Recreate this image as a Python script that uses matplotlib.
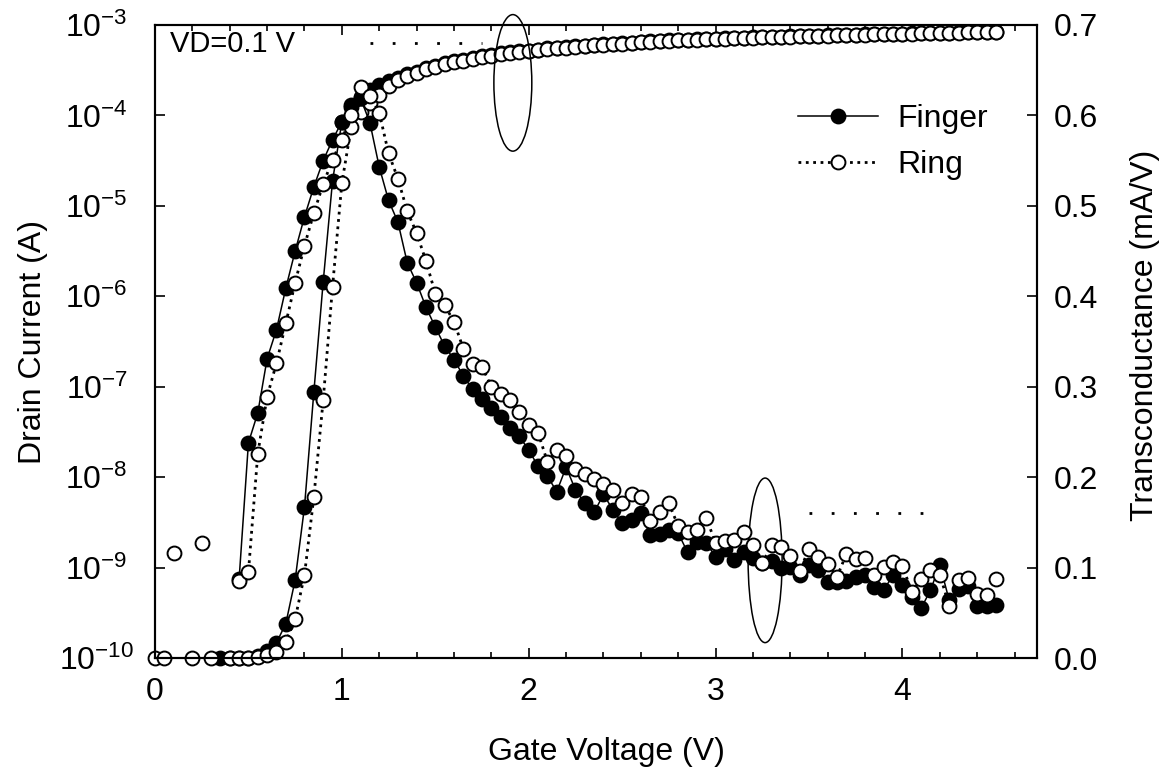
import numpy as np
import matplotlib
matplotlib.use("Agg")
import matplotlib.pyplot as plt
from matplotlib.patches import Ellipse
from matplotlib.ticker import MultipleLocator, NullLocator, FormatStrFormatter

plt.rcParams['font.family'] = ['Liberation Sans', 'DejaVu Sans']
plt.rcParams['axes.unicode_minus'] = False

nan = np.nan

# gate voltage sweep, 0 .. 4.5 V in 0.05 V steps
gate_v = np.round(np.arange(91) * 0.05, 2)

# drain current (A), left log axis
finger_id = [nan, nan, nan, nan, nan, nan, nan,
             1.0e-10, 1.0e-10, 1.0e-10, 1.0e-10, 1.05e-10, 1.2e-10, 1.47e-10,
             2.4e-10, 7.3e-10, 4.7e-9, 8.7e-8, 1.44e-6, 1.88e-5, 8.5e-5,
             1.3e-4, 1.6e-4, 1.9e-4, 2.15e-4, 2.4e-4, 2.6e-4, 2.85e-4, 3.05e-4,
             3.35e-4, 3.55e-4, 3.8e-4, 4.0e-4, 4.1e-4, 4.3e-4, 4.5e-4, 4.65e-4,
             4.85e-4, 5.0e-4, 5.1e-4, 5.2e-4, 5.35e-4, 5.5e-4, 5.62e-4, 5.7e-4,
             5.8e-4, 5.92e-4, 6.05e-4, 6.12e-4, 6.22e-4, 6.3e-4, 6.4e-4, 6.52e-4,
             6.58e-4, 6.7e-4, 6.76e-4, 6.82e-4, 6.87e-4, 6.93e-4, 6.99e-4, 7.05e-4,
             7.1e-4, 7.16e-4, 7.22e-4, 7.28e-4, 7.33e-4, 7.38e-4, 7.43e-4, 7.49e-4,
             7.54e-4, 7.59e-4, 7.64e-4, 7.69e-4, 7.74e-4, 7.79e-4, 7.83e-4, 7.88e-4,
             7.92e-4, 7.96e-4, 8.0e-4, 8.04e-4, 8.08e-4, 8.12e-4, 8.16e-4, 8.2e-4,
             8.24e-4, 8.27e-4, 8.31e-4, 8.34e-4, 8.38e-4, 8.41e-4]
ring_id = [1.0e-10, 1.0e-10, nan, nan, 1.0e-10, nan, 1.0e-10, nan,
           1.0e-10, 1.0e-10, 1.0e-10, 1.03e-10, 1.08e-10, 1.16e-10, 1.5e-10,
           2.7e-10, 8.3e-10, 6.0e-9, 7.1e-8, 1.27e-6, 1.79e-5, 7.4e-5, 1.1e-4,
           1.37e-4, 1.68e-4, 2.1e-4, 2.47e-4, 2.73e-4, 2.95e-4, 3.26e-4, 3.43e-4,
           3.7e-4, 3.9e-4, 4.0e-4, 4.21e-4, 4.43e-4, 4.54e-4, 4.78e-4, 4.9e-4,
           5.03e-4, 5.1e-4, 5.29e-4, 5.43e-4, 5.57e-4, 5.6e-4, 5.71e-4, 5.86e-4,
           6.0e-4, 6.05e-4, 6.16e-4, 6.2e-4, 6.32e-4, 6.49e-4, 6.5e-4, 6.66e-4,
           6.7e-4, 6.75e-4, 6.8e-4, 6.86e-4, 6.92e-4, 6.98e-4, 7.05e-4, 7.1e-4,
           7.16e-4, 7.22e-4, 7.28e-4, 7.33e-4, 7.38e-4, 7.44e-4, 7.5e-4, 7.55e-4,
           7.6e-4, 7.65e-4, 7.7e-4, 7.75e-4, 7.8e-4, 7.84e-4, 7.88e-4, 7.93e-4,
           7.97e-4, 8.01e-4, 8.05e-4, 8.09e-4, 8.13e-4, 8.17e-4, 8.21e-4, 8.24e-4,
           8.28e-4, 8.31e-4, 8.35e-4, 8.38e-4]

# transconductance (mA/V), right axis
finger_gm = [nan, nan, nan, nan, nan, nan, nan, nan, nan,
             0.087, 0.238, 0.271, 0.331, 0.363, 0.409, 0.450, 0.488, 0.521,
             0.550, 0.573, 0.593, 0.609, 0.619, 0.592, 0.543, 0.506, 0.482,
             0.437, 0.415, 0.388, 0.366, 0.345, 0.330, 0.312, 0.297, 0.286,
             0.276, 0.266, 0.254, 0.245, 0.230, 0.212, 0.201, 0.184, 0.211,
             0.186, 0.171, 0.161, 0.181, 0.164, 0.149, 0.153, 0.160, 0.136,
             0.137, 0.142, 0.138, 0.117, 0.128, 0.127, 0.112, 0.121, 0.108,
             0.117, 0.111, 0.105, 0.107, 0.100, 0.101, 0.092, 0.103, 0.097,
             0.084, 0.084, 0.085, 0.090, 0.092, 0.079, 0.075, 0.092, 0.081,
             0.067, 0.055, 0.075, 0.103, 0.064, 0.076, 0.080, 0.058, 0.058, 0.059]
ring_gm = [nan, nan, 0.116, nan, nan, 0.127, nan, nan, nan,
           0.085, 0.095, 0.226, 0.289, 0.326, 0.370, 0.415, 0.456, 0.492,
           0.524, 0.551, 0.573, 0.600, 0.631, 0.622, 0.603, 0.558, 0.530,
           0.494, 0.470, 0.439, 0.403, 0.390, 0.372, 0.342, 0.325, 0.322,
           0.300, 0.292, 0.285, 0.272, 0.258, 0.249, 0.217, 0.230, 0.223,
           0.209, 0.203, 0.198, 0.192, 0.186, 0.171, 0.181, 0.178, 0.151,
           0.161, 0.171, 0.146, 0.139, 0.142, 0.155, 0.127, 0.129, 0.130,
           0.139, 0.125, 0.105, 0.125, 0.123, 0.113, 0.096, 0.121, 0.112,
           0.104, 0.090, 0.115, 0.109, 0.111, 0.092, 0.101, 0.106, 0.102,
           0.073, 0.087, 0.097, 0.092, 0.058, 0.086, 0.088, 0.071, 0.070, 0.087]

# stray dotted traces left in the figure
stray_id_v = [1.15, 1.75]
stray_id = [6.3e-4, 6.3e-4]
stray_gm_v = [3.5, 4.2]
stray_gm = [0.16, 0.16]

fs = 23
fig = plt.figure(figsize=(11.74, 7.8), dpi=100)
ax = fig.add_axes([155/1174, 122/780, 882/1174, 633/780])
ax2 = ax.twinx()

mk = dict(marker='o', ms=10, mew=1.4, mec='black', clip_on=False)
ax.plot(gate_v, finger_id, '-', color='black', lw=1.1, mfc='black', **mk)
ax.plot(gate_v, ring_id, ':', color='black', lw=2, mfc='white', **mk)
ax.plot(stray_id_v, stray_id, color='black', lw=2, ls=(0, (1, 7)))

l1, = ax2.plot(gate_v, finger_gm, '-', color='black', lw=1.1, mfc='black', **mk)
l2, = ax2.plot(gate_v, ring_gm, ':', color='black', lw=2, mfc='white', **mk)
ax2.plot(stray_gm_v, stray_gm, color='black', lw=2, ls=(0, (1, 7)))

ax.set_yscale('log')
ax.set_ylim(1e-10, 1e-3)
ax.set_xlim(0, 4.72)
ax2.set_ylim(0, 0.7)

ax.xaxis.set_major_locator(MultipleLocator(1))
ax.xaxis.set_minor_locator(MultipleLocator(0.2))
ax.yaxis.set_minor_locator(NullLocator())
ax2.yaxis.set_major_locator(MultipleLocator(0.1))
ax2.yaxis.set_major_formatter(FormatStrFormatter('%.1f'))

for a in (ax, ax2):
    for s in a.spines.values():
        s.set_linewidth(1.5)
ax.tick_params(axis='x', which='both', direction='in', top=True, width=1.2, labelsize=fs, pad=14)
ax.tick_params(axis='x', which='major', length=7.5)
ax.tick_params(axis='x', which='minor', length=4.5)
ax.tick_params(axis='y', which='major', direction='in', length=7.5, width=1.2, labelsize=fs, pad=42)
for t in ax.get_yticklabels():
    t.set_horizontalalignment('center')
ax2.tick_params(axis='y', direction='in', length=7.5, width=1.2, labelsize=fs, pad=12)

ax.set_xlabel('Gate Voltage (V)', fontsize=fs)
ax.set_ylabel('Drain Current (A)', fontsize=fs)
ax2.set_ylabel('Transconductance (mA/V)', fontsize=fs)
ax.xaxis.set_label_coords(0.512, -0.148)
ax.xaxis.label.set_verticalalignment('center')
ax.yaxis.set_label_coords(-0.138, 0.5)
ax.yaxis.label.set_verticalalignment('center')
ax2.yaxis.set_label_coords(1.122, 0.51)
ax2.yaxis.label.set_verticalalignment('center')

ax.text(0.017, 0.957, 'VD=0.1 V', transform=ax.transAxes, fontsize=21,
        ha='left', va='baseline')

# ellipses marking which curve belongs to which axis
ax2.add_patch(Ellipse((1.915, 0.636), 0.203, 0.151, fill=False, lw=1.1,
                      color='black', clip_on=False))
ax2.add_patch(Ellipse((3.265, 0.108), 0.182, 0.182, fill=False, lw=1.1,
                      color='black', clip_on=False))

ax2.legend([l1, l2], ['Finger', 'Ring'], loc='upper left',
           bbox_to_anchor=(0.729, 0.875), frameon=False, fontsize=fs,
           handlelength=2.5, handletextpad=0.6, borderpad=0, borderaxespad=0,
           labelspacing=0.5)

fig.savefig('out.png', dpi=100)
